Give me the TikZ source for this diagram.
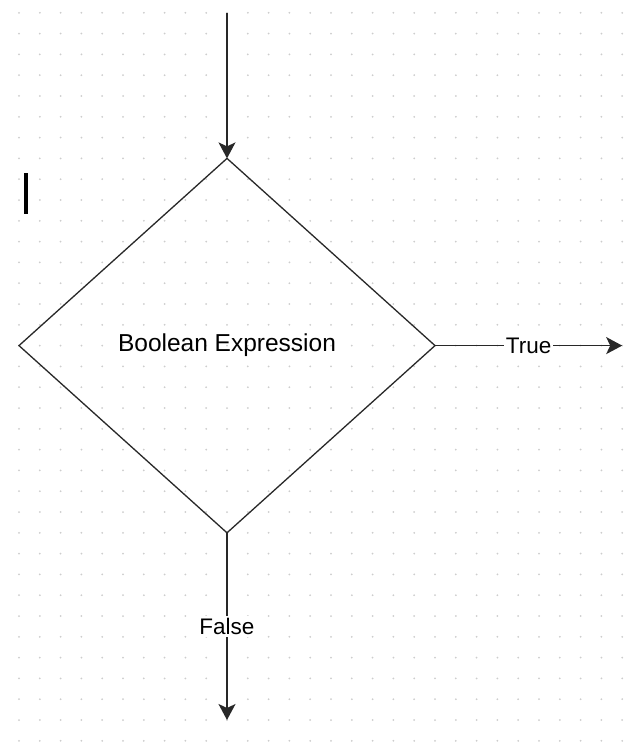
\documentclass[tikz,border=0pt]{standalone}
\usepackage{fontspec}
\setmainfont{Liberation Sans}
\usepackage{tikz}
\usetikzlibrary{shapes.geometric,arrows.meta,positioning}
\definecolor{dotgray}{RGB}{205,205,205}
\definecolor{linegray}{RGB}{40,40,40}

\begin{document}
\begin{tikzpicture}[
    x=20.8pt, y=-20.8pt,
    decision/.style={diamond, draw=linegray, line width=1.3pt, inner sep=0pt, outer sep=0pt,
        minimum width=416pt, minimum height=374.4pt, font=\fontsize{24.5}{29}\selectfont},
    flow/.style={draw=linegray, line width=1.6pt, -{Stealth[length=16pt,width=17pt,inset=4pt]}},
    label/.style={fill=white, inner sep=2pt, font=\fontsize{22.5}{27}\selectfont},
]
    \useasboundingbox (-19pt,12.8pt) rectangle (619pt,-739.2pt);
    % Grid
    \foreach \i in {0,...,29} {
        \foreach \j in {0,...,35} {
            \fill[dotgray] (\i,\j) circle (1pt);
        }
    }
    % Cursor
    \fill[black] (0.24,7.7) rectangle (0.43,9.67);
    \node[decision] (cond) at (10,16) {Boolean Expression};
    \coordinate (entry) at (10,0);
    \coordinate (yes) at (29,16);
    \coordinate (no) at (10,34);
    \draw[flow] (entry) -- (cond.north);
    \draw[flow] (cond.east) -- node[label] {True} (yes);
    \draw[flow] (cond.south) -- node[label] {False} (no);
\end{tikzpicture}
\end{document}
